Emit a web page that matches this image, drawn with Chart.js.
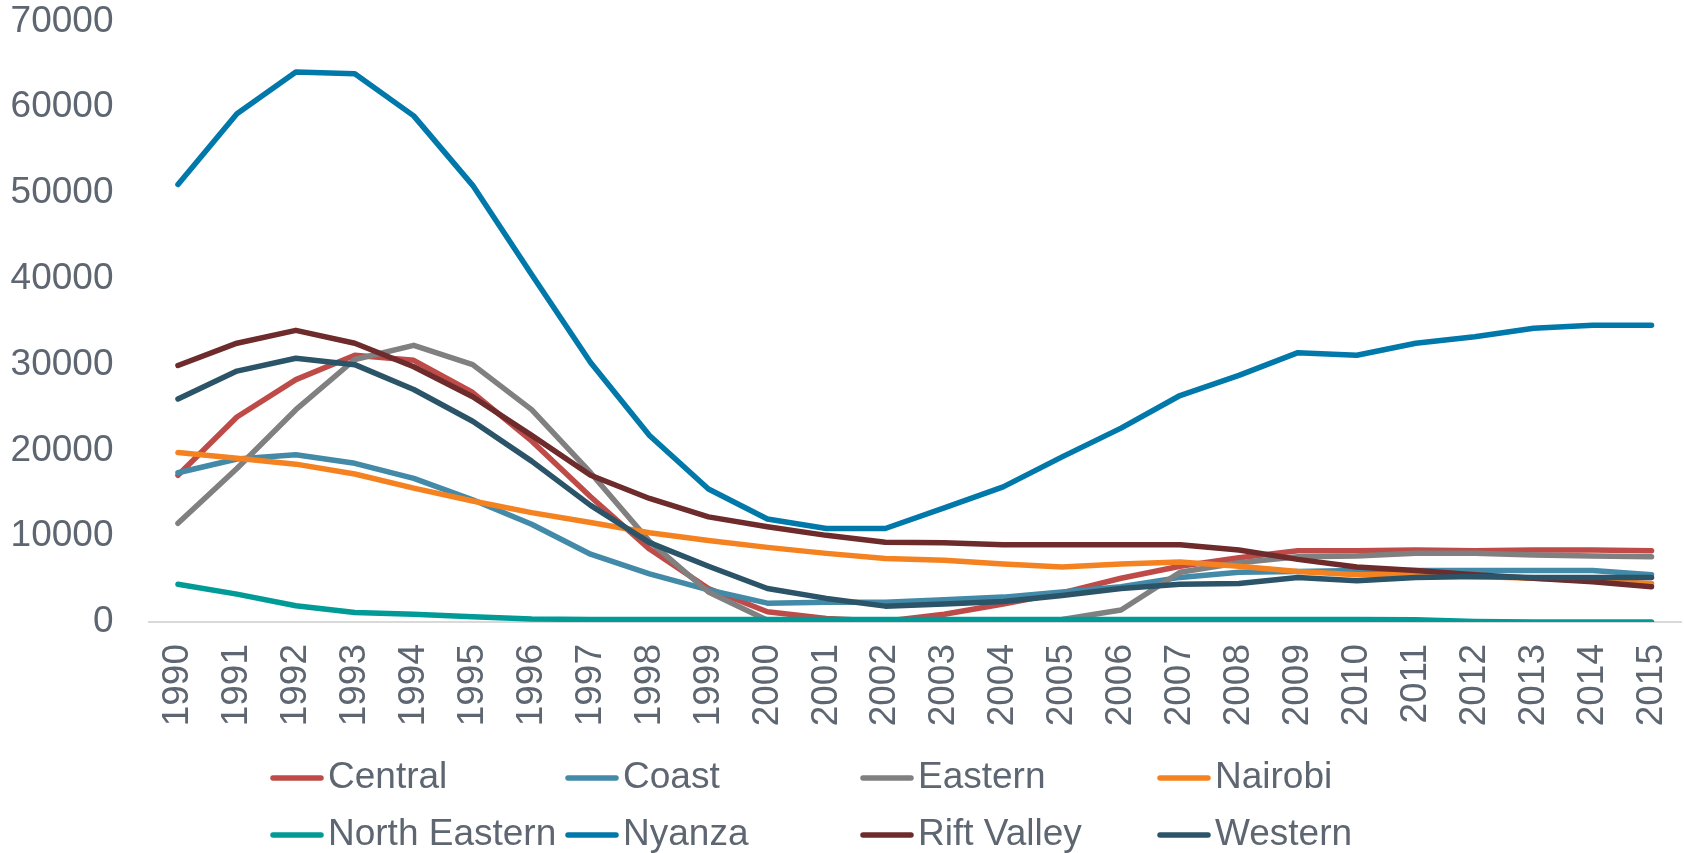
<!DOCTYPE html>
<html>
<head>
<meta charset="utf-8">
<script src="https://cdn.jsdelivr.net/npm/chart.js@4"></script>
<style>
  html, body { margin: 0; padding: 0; background: #fff; }
  #wrap { width: 1684px; height: 853px; }
</style>
</head>
<body>
<div id="wrap"><canvas id="chart" width="1684" height="853"></canvas></div>
<script>
// data
const years = ['1990','1991','1992','1993','1994','1995','1996','1997','1998','1999','2000','2001','2002',
    '2003','2004','2005','2006','2007','2008','2009','2010','2011','2012','2013','2014','2015'];
const yTicks = [0, 10000, 20000, 30000, 40000, 50000, 60000, 70000];

const central = [17100, 23900, 28250, 31100, 30500, 26750, 21100, 14600, 8500, 3900, 1200, 400, 100,
    900, 2100, 3400, 5100, 6500, 7500, 8300, 8300, 8400, 8300, 8400, 8400, 8300];
const coast = [17400, 19000, 19500, 18500, 16750, 14250, 11400, 7900, 5600, 3750, 2200, 2300, 2300,
    2600, 2900, 3500, 4100, 5200, 5800, 5900, 6000, 6000, 6000, 6000, 6000, 5500];
const eastern = [11500, 17900, 24750, 30600, 32250, 30000, 24750, 17400, 9400, 3500, 200, 0, 0,
    0, 0, 300, 1400, 5800, 6900, 7600, 7700, 8000, 8000, 7800, 7700, 7600];
const nairobi = [19750, 19100, 18400, 17250, 15600, 14100, 12750, 11600, 10400, 9500, 8700, 8000, 7400,
    7200, 6750, 6400, 6750, 7000, 6500, 5900, 5500, 5500, 5300, 5100, 4800, 4500];
const northEastern = [4400, 3250, 1900, 1100, 900, 600, 350, 300, 300, 300, 300, 300, 300,
    300, 300, 300, 300, 300, 300, 300, 300, 250, 50, 0, 0, 0];
const nyanza = [51000, 59250, 64100, 63900, 59000, 50900, 40500, 30250, 21750, 15500, 12000, 10900, 10900,
    13300, 15750, 19250, 22600, 26400, 28750, 31400, 31100, 32500, 33250, 34250, 34600, 34600];
const riftValley = [29900, 32500, 34000, 32500, 29750, 26250, 21750, 17100, 14400, 12250, 11100, 10100, 9300,
    9250, 9000, 9000, 9000, 9000, 8400, 7300, 6400, 6000, 5500, 5100, 4700, 4100];
const western = [26000, 29250, 30750, 30000, 27100, 23400, 18750, 13600, 9250, 6500, 3900, 2750, 1850,
    2100, 2400, 3100, 3900, 4400, 4500, 5200, 4800, 5200, 5300, 5200, 5200, 5200];

const seriesNames = ['Central', 'Coast', 'Eastern', 'Nairobi', 'North Eastern', 'Nyanza', 'Rift Valley', 'Western'];
const seriesValues = [central, coast, eastern, nairobi, northEastern, nyanza, riftValley, western];
const seriesColors = ['#be4b48', '#438aa8', '#808080', '#f58220', '#009b96', '#0078aa', '#6e2b2c', '#2b5468'];

const textColor = '#5d6671';
const fontFamily = '"Liberation Sans", Arial, sans-serif';

// Excel-style legend: fixed columns, two rows
const gridLegend = {
    id: 'gridLegend',
    afterDraw(chart) {
        const ctx = chart.ctx;
        const cols = [271, 566, 861, 1158];
        const rows = [778, 835];
        ctx.save();
        ctx.font = '37px ' + fontFamily;
        ctx.textBaseline = 'middle';
        ctx.textAlign = 'left';
        chart.data.datasets.forEach((ds, i) => {
            const x = cols[i % 4];
            const y = rows[Math.floor(i / 4)];
            ctx.strokeStyle = ds.borderColor;
            ctx.lineWidth = 5.5;
            ctx.lineCap = 'round';
            ctx.beginPath();
            ctx.moveTo(x + 2, y);
            ctx.lineTo(x + 50, y);
            ctx.stroke();
            ctx.fillStyle = textColor;
            ctx.fillText(ds.label, x + 57, y);
        });
        ctx.restore();
    }
};

new Chart(document.getElementById('chart'), {
    type: 'line',
    data: {
        labels: years,
        datasets: seriesNames.map((name, i) => ({
            label: name,
            data: seriesValues[i],
            borderColor: seriesColors[i],
            backgroundColor: seriesColors[i],
            borderWidth: 5.5,
            borderCapStyle: 'round',
            borderJoinStyle: 'round',
            pointRadius: 0,
            tension: 0,
            order: seriesNames.length - i
        }))
    },
    options: {
        responsive: false,
        animation: false,
        layout: { padding: { top: 21.5, right: 3, bottom: 0, left: 0 } },
        plugins: {
            legend: { display: false },
            tooltip: { enabled: false }
        },
        scales: {
            x: {
                offset: true,
                grid: { display: false, drawTicks: false },
                border: { display: true, color: '#d9d9d9', width: 2 },
                ticks: {
                    color: textColor,
                    font: { size: 37, family: fontFamily },
                    minRotation: 90,
                    maxRotation: 90,
                    padding: 22,
                    autoSkip: false
                },
                afterFit: scale => {
                    scale.height = 231;
                    scale.paddingLeft = 0;
                    scale.paddingRight = 0;
                }
            },
            y: {
                min: 0,
                max: 70000,
                grid: { display: false, drawTicks: false },
                border: { display: false },
                afterBuildTicks: scale => { scale.ticks = yTicks.map(v => ({ value: v })); },
                ticks: {
                    color: textColor,
                    font: { size: 37, family: fontFamily },
                    padding: 35,
                    callback: v => String(v)
                },
                afterFit: scale => {
                    scale.width = 148.5;
                    scale.paddingTop = 0;
                    scale.paddingBottom = 0;
                }
            }
        }
    },
    plugins: [gridLegend]
});
</script>
</body>
</html>
